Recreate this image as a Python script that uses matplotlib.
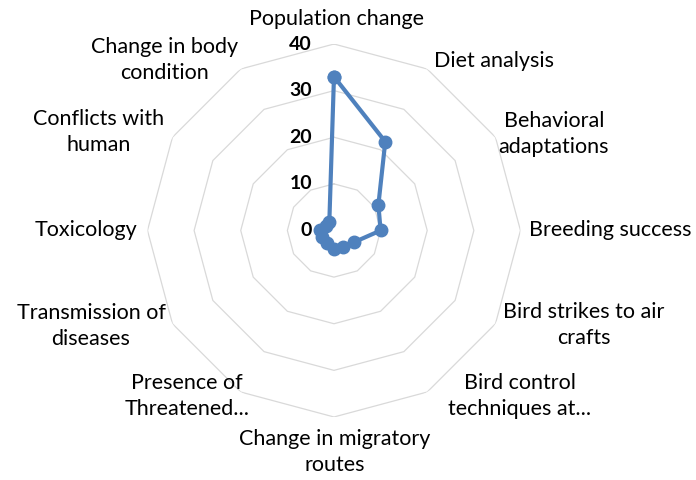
import numpy as np
import matplotlib

matplotlib.use("Agg")
import matplotlib.pyplot as plt

categories = [
    "Population change",
    "Diet analysis",
    "Behavioral\nadaptations",
    "Breeding success",
    "Bird strikes to air\ncrafts",
    "Bird control\ntechniques at...",
    "Change in migratory\nroutes",
    "Presence of\nThreatened...",
    "Transmission of\ndiseases",
    "Toxicology",
    "Conflicts with\nhuman",
    "Change in body\ncondition",
]
counts = [33, 22, 11, 10, 5, 4, 4, 3, 3, 3, 2, 2]
ring_values = [0, 10, 20, 30, 40]

BLUE = "#4F81BD"
GRID = "#D9D9D9"

plt.rcParams["font.family"] = ["Lato", "DejaVu Sans"]

fig = plt.figure(figsize=(6.96, 4.8), dpi=100)
ax = fig.add_axes([0.2119, 0.13125, 0.5359, 0.7771], projection="polar")
ax.set_theta_zero_location("N")
ax.set_theta_direction(-1)
ax.set_ylim(0, 40)
ax.axis("off")

angles = np.linspace(0, 2 * np.pi, len(categories), endpoint=False)
closed = np.append(angles, angles[0])

# polygon gridlines, excel style
for r in ring_values[1:]:
    ax.plot(closed, [r] * len(closed), color=GRID, linewidth=0.9, zorder=1)

ax.plot(closed, counts + counts[:1], color=BLUE, linewidth=3.0,
        marker="o", markersize=9, zorder=3, clip_on=False)

for r in ring_values:
    ax.annotate(str(r), xy=(0, r), xytext=(-22, 0), textcoords="offset pixels",
                ha="right", va="center", fontsize=14, fontweight="bold",
                color="black")

# label placement: (dx, dy) in pixels from the outer vertex, alignment
placement = [
    (3, 15, "center", "bottom"),
    (7, 8, "left", "center"),
    (3, 3, "left", "center"),
    (9, 0, "left", "center"),
    (8, -1, "left", "center"),
    (21, -4, "left", "center"),
    (1, -12, "center", "top"),
    (9, -4, "right", "center"),
    (-7, -2, "right", "center"),
    (-10, 0, "right", "center"),
    (-8, 5, "right", "center"),
    (-3, 9, "right", "center"),
]
for ang, label, (dx, dy, ha, va) in zip(angles, categories, placement):
    ax.annotate(label, xy=(ang, ring_values[-1]), xytext=(dx, dy),
                textcoords="offset pixels", ha=ha, va=va,
                multialignment="center", fontsize=15.5, color="black",
                linespacing=1.35)

fig.savefig("out.png", dpi=100)
